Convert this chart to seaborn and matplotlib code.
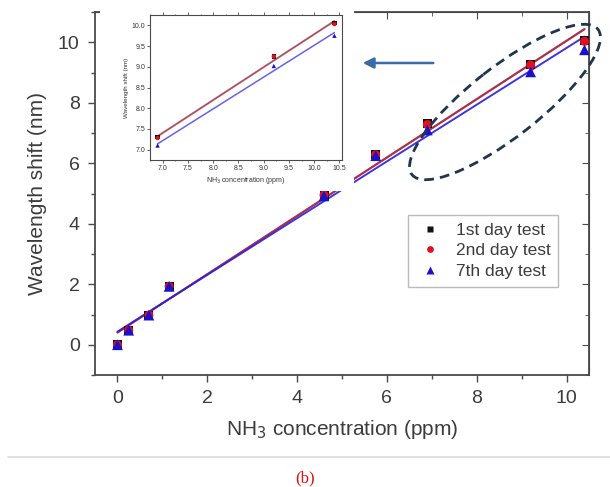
import numpy as np
import pandas as pd
import matplotlib
matplotlib.use("Agg")
import matplotlib.pyplot as plt
from matplotlib.patches import Ellipse, FancyArrowPatch
from matplotlib.ticker import MultipleLocator
import seaborn as sns

# NH3 concentration (ppm) and wavelength shift (nm) for each test day
concentration = [0.0, 0.25, 0.7, 1.15, 4.6, 5.75, 6.9, 9.2, 10.4]
shift_day1 = [0.0, 0.48, 0.98, 1.93, 4.95, 6.28, 7.3, 9.25, 10.05]
shift_day2 = [0.0, 0.48, 0.98, 1.93, 4.95, 6.28, 7.28, 9.25, 10.03]
shift_day7 = [0.0, 0.48, 0.98, 1.93, 4.92, 6.25, 7.1, 9.02, 9.75]
series_names = ["1st day test", "2nd day test", "7th day test"]

colors = {"1st day test": "#111111", "2nd day test": "#e0101e", "7th day test": "#1a12c8"}
line_colors = {"1st day test": "#6a6a6a", "2nd day test": "#c02040", "7th day test": "#2a1ee0"}
markers = {"1st day test": "s", "2nd day test": "o", "7th day test": "^"}
marker_sizes = {"1st day test": 42, "2nd day test": 42, "7th day test": 60}

df = pd.DataFrame({
    "conc": concentration * 3,
    "shift": shift_day1 + shift_day2 + shift_day7,
    "test": np.repeat(series_names, len(concentration)),
})

sns.set_style("ticks")
plt.rcParams["font.family"] = ["Liberation Sans", "DejaVu Sans"]

W, H = 610, 487
fig = plt.figure(figsize=(W / 100, H / 100), dpi=100)
fig.patch.set_facecolor("white")

def fbox(x0, y0, x1, y1):
    return [x0 / W, 1 - y1 / H, (x1 - x0) / W, (y1 - y0) / H]

text_grey = "#3c3c3c"
spine_grey = "#4a4a4a"

# ---- main panel ----
ax = fig.add_axes(fbox(95, 12, 589, 375))
for name in series_names:
    sub = df[df["test"] == name]
    sns.regplot(data=sub, x="conc", y="shift", ax=ax, scatter=False, ci=None,
                line_kws={"color": line_colors[name], "lw": 1.4, "alpha": 0.9})
sns.scatterplot(data=df, x="conc", y="shift", hue="test", style="test",
                size="test", sizes=marker_sizes,
                palette=colors, markers=markers, edgecolor="none",
                ax=ax, zorder=5)

ax.set_xlim(-0.5, 10.5)
ax.set_ylim(-1, 11)
ax.xaxis.set_major_locator(MultipleLocator(2))
ax.xaxis.set_minor_locator(MultipleLocator(1))
ax.yaxis.set_major_locator(MultipleLocator(2))
ax.yaxis.set_minor_locator(MultipleLocator(1))
ax.tick_params(which="both", direction="out", color=spine_grey, labelcolor=text_grey,
               labelsize=14, width=1.0)
ax.tick_params(which="major", length=5, pad=6)
ax.tick_params(which="minor", length=3)
for sp in ax.spines.values():
    sp.set_visible(True)
    sp.set_color(spine_grey)
    sp.set_linewidth(1.3)

# mirrored inward ticks on the top and right edges
top = ax.secondary_xaxis("top")
top.xaxis.set_major_locator(MultipleLocator(2))
top.xaxis.set_minor_locator(MultipleLocator(1))
top.tick_params(which="both", direction="in", labeltop=False, color=spine_grey)
top.tick_params(which="major", length=5)
top.tick_params(which="minor", length=3)
right = ax.secondary_yaxis("right")
right.yaxis.set_major_locator(MultipleLocator(2))
right.yaxis.set_minor_locator(MultipleLocator(1))
right.tick_params(which="both", direction="in", labelright=False, color=spine_grey)
right.tick_params(which="major", length=5)
right.tick_params(which="minor", length=3)

ax.set_xlabel("NH$_3$ concentration (ppm)", fontsize=15, color=text_grey, labelpad=8)
ax.set_ylabel("Wavelength shift (nm)", fontsize=15, color=text_grey, labelpad=8)

handles, labels = ax.get_legend_handles_labels()
leg = ax.legend(handles, labels, loc="upper left",
                bbox_to_anchor=((408 - 95) / 494, 1 - (215 - 12) / 363),
                borderaxespad=0, fontsize=12.5, frameon=True, fancybox=False,
                edgecolor="#aaaaaa", handletextpad=0.7, borderpad=0.45,
                labelspacing=0.3, markerscale=0.75, handlelength=1.6)
leg.get_frame().set_linewidth(1.0)
for t in leg.get_texts():
    t.set_color(text_grey)

# ---- inset: zoom on the upper three concentrations ----
bg = fig.add_axes(fbox(100, 6, 354, 191))
bg.set_facecolor("white")
bg.set_xticks([])
bg.set_yticks([])
for sp in bg.spines.values():
    sp.set_visible(False)

ins = fig.add_axes(fbox(150, 15, 342, 160))
upper = df[df["conc"] >= 6.5]
for name in series_names:
    sub = upper[upper["test"] == name]
    sns.regplot(data=sub, x="conc", y="shift", ax=ins, scatter=False, ci=None,
                line_kws={"color": line_colors[name], "lw": 1.1, "alpha": 0.7})
sns.scatterplot(data=upper, x="conc", y="shift", hue="test", style="test",
                palette=colors, markers=markers, s=10, edgecolor="none",
                ax=ins, zorder=5, legend=False)
ins.set_xlim(6.75, 10.55)
ins.set_ylim(6.75, 10.25)
ins.xaxis.set_major_locator(MultipleLocator(0.5))
ins.yaxis.set_major_locator(MultipleLocator(0.5))
ins.xaxis.set_minor_locator(MultipleLocator(0.25))
ins.tick_params(which="both", direction="out", labelsize=5, color=spine_grey,
                labelcolor="#333333", width=0.6, pad=1.5)
ins.tick_params(which="major", length=2)
ins.tick_params(which="minor", length=1)
ins.tick_params(top=True, which="both")
for sp in ins.spines.values():
    sp.set_visible(True)
    sp.set_color(spine_grey)
    sp.set_linewidth(0.8)
ins.set_xlabel("NH$_3$ concentration (ppm)", fontsize=5, color="#333333", labelpad=2)
ins.set_ylabel("Wavelength shift (nm)", fontsize=4.5, color="#333333", labelpad=2)

# ---- callout marks drawn in pixel space ----
ov = fig.add_axes([0, 0, 1, 1], facecolor="none")
ov.set_xlim(0, W)
ov.set_ylim(H, 0)
ov.axis("off")
ov.add_patch(Ellipse((505, 102), 236, 70, angle=-38, fill=False,
                     edgecolor="#1f3550", lw=2.0, linestyle=(0, (3.5, 2.2))))
ov.add_patch(FancyArrowPatch((436, 63), (360, 63), arrowstyle="-|>", mutation_scale=16,
                             color="#3a6aa8", lw=1.8))
ov.plot([8, 610], [457, 457], color="#dcdcdc", lw=1.2)
ov.text(305, 478, "(b)", color="#e01010", fontsize=12, ha="center", va="center",
        family=["Liberation Serif", "DejaVu Serif"])

fig.savefig("out.png", dpi=100, facecolor="white")
